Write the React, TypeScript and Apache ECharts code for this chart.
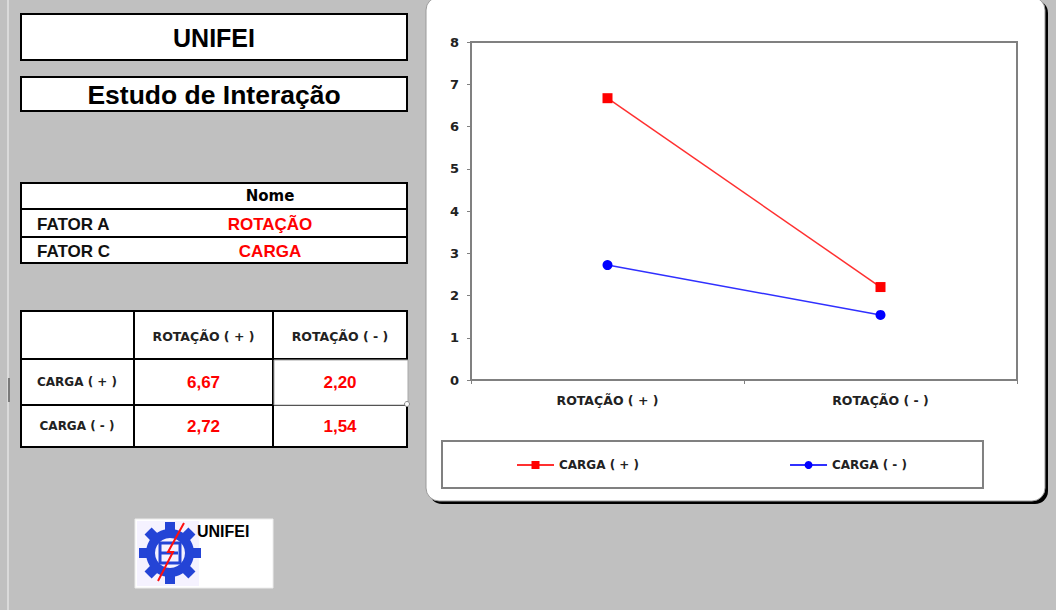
import React, { useEffect, useRef } from "react";
import * as echarts from "echarts";

// ---------- data ----------
const categories = ["ROTAÇÃO ( + )", "ROTAÇÃO ( - )"];
const seriesNames = ["CARGA ( + )", "CARGA ( - )"];
const cargaPlus = [6.67, 2.2];
const cargaMinus = [2.72, 1.54];
const yMin = 0;
const yMax = 8;
const yInterval = 1;
const titleText = "UNIFEI";
const subtitleText = "Estudo de Interação";
const factorHeader = "Nome";
const factorLabels = ["FATOR A", "FATOR C"];
const factorNames = ["ROTAÇÃO", "CARGA"];
const logoText = "UNIFEI";

const LIB = "'Liberation Sans', Arial, sans-serif";
const DV = "'DejaVu Sans', Verdana, sans-serif";

const fmt = (v: number) => v.toFixed(2).replace(".", ",");

function rect(x: number, y: number, w: number, h: number, opts: any = {}) {
  return {
    type: "rect",
    z: opts.z ?? 1,
    shape: { x, y, width: w, height: h, r: opts.r ?? 0 },
    style: {
      fill: opts.fill ?? "#fff",
      stroke: opts.stroke ?? "#000",
      lineWidth: opts.lw ?? 2,
    },
  };
}
function line(x1: number, y1: number, x2: number, y2: number, opts: any = {}) {
  return {
    type: "line",
    z: opts.z ?? 2,
    shape: { x1, y1, x2, y2 },
    style: { stroke: opts.stroke ?? "#000", lineWidth: opts.lw ?? 2 },
  };
}
function text(x: number, y: number, t: string, opts: any = {}) {
  return {
    type: "text",
    z: opts.z ?? 3,
    x,
    y,
    scaleX: opts.scaleX ?? 1,
    style: {
      text: t,
      x: 0,
      y: 0,
      fill: opts.color ?? "#000",
      font: `${opts.weight ?? "bold"} ${opts.size ?? 14}px ${opts.family ?? LIB}`,
      textAlign: opts.align ?? "center",
      textVerticalAlign: "middle",
    },
  };
}

function buildGraphics() {
  const g: any[] = [];
  // left strip
  g.push(line(8, 0, 8, 610, { stroke: "#dadada", lw: 2, z: 0 }));
  g.push(line(9, 378, 9, 402, { stroke: "#7a7a7a", lw: 2, z: 0 }));

  // title boxes
  g.push(rect(21, 14, 386, 46));
  g.push(text(214, 38, titleText, { size: 25 }));
  g.push(rect(21, 77, 386, 34));
  g.push(text(214, 95, subtitleText, { size: 25, scaleX: 1.06 }));

  // factor table
  g.push(rect(21, 183, 386, 80));
  g.push(line(21, 209, 407, 209));
  g.push(line(21, 237, 407, 237));
  g.push(text(270, 196, factorHeader, { size: 15, family: DV }));
  factorLabels.forEach((l, i) => {
    g.push(text(37, 224 + i * 27, l, { size: 17, family: LIB, align: "left", color: "#111" }));
    g.push(text(270, 224 + i * 27, factorNames[i], { size: 17, color: "#ff0000" }));
  });

  // interaction table
  const cols = [21, 134, 273, 407];
  const rows = [311, 359, 405, 447];
  g.push(rect(21, 311, 386, 136));
  g.push(line(134, 311, 134, 447));
  g.push(line(273, 311, 273, 447));
  g.push(line(21, 359, 407, 359));
  g.push(line(21, 405, 407, 405));
  const colC = [(cols[1] + cols[2]) / 2, (cols[2] + cols[3]) / 2];
  const rowC = [(rows[1] + rows[2]) / 2, (rows[2] + rows[3]) / 2];
  categories.forEach((c, i) => {
    g.push(text(colC[i], 336, c, { size: 12.5, family: DV, color: "#222" }));
  });
  seriesNames.forEach((s, i) => {
    g.push(text(77, rowC[i], s, { size: 12, family: DV, color: "#222" }));
  });
  // selected cell overlay
  g.push(rect(274, 360, 134, 45, { stroke: "#a8a8a8", lw: 1, z: 4 }));
  g.push({
    type: "circle",
    z: 5,
    shape: { cx: 407, cy: 404, r: 2.5 },
    style: { fill: "#fff", stroke: "#888", lineWidth: 1 },
  });
  const vals = [cargaPlus, cargaMinus];
  vals.forEach((row, r) => {
    row.forEach((v, c) => {
      g.push(text(colC[c], rowC[r], fmt(v), { size: 17, color: "#ff0000", z: 6 }));
    });
  });

  // logo
  g.push(rect(135, 519, 138, 69, { stroke: "#ececec", lw: 1 }));
  g.push(rect(137, 521, 62, 65, { fill: "#f5f2ff", stroke: "none", lw: 0, z: 2 }));
  const cx = 170, cy = 553;
  for (let k = 0; k < 8; k++) {
    g.push({
      type: "rect",
      z: 3,
      x: cx,
      y: cy,
      rotation: (k * Math.PI) / 4,
      shape: { x: -5, y: -31, width: 10, height: 10 },
      style: { fill: "#2444d6" },
    });
  }
  g.push({
    type: "ring",
    z: 3,
    shape: { cx, cy, r: 24, r0: 15 },
    style: { fill: "#2444d6" },
  });
  g.push(rect(160, 543, 20, 20, { fill: "none", stroke: "#2444d6", lw: 3, z: 4 }));
  g.push(line(160, 553, 178, 553, { stroke: "#2444d6", lw: 3, z: 4 }));
  g.push({
    type: "polyline",
    z: 5,
    shape: { points: [[158, 581], [173, 552], [168, 552], [184, 523]] },
    style: { stroke: "#ff1010", lineWidth: 2, fill: "none" },
  });
  g.push(text(197, 531, logoText, { size: 16, align: "left" }));

  // chart panel (behind the grid)
  g.push({
    type: "rect",
    z: -10,
    shape: { x: 429, y: 0, width: 619, height: 504, r: 13 },
    style: { fill: "#000" },
  });
  g.push({
    type: "rect",
    z: -9,
    shape: { x: 426, y: -3, width: 619, height: 504, r: 13 },
    style: { fill: "#fff", stroke: "#9a9a9a", lineWidth: 1 },
  });
  return g;
}

export default function App() {
  const ref = useRef<HTMLDivElement>(null);
  useEffect(() => {
    if (!ref.current) return;
    const chart = echarts.init(ref.current, undefined, { renderer: "svg" });
    chart.setOption({
      animation: false,
      backgroundColor: "#c0c0c0",
      graphic: { elements: buildGraphics() },
      grid: {
        left: 471,
        right: 39,
        top: 42,
        bottom: 230,
        show: true,
        backgroundColor: "#fff",
        borderColor: "#808080",
        borderWidth: 2,
        z: 1,
      },
      legend: {
        left: 442,
        top: 441,
        padding: [18, 76, 17, 74],
        itemGap: 150,
        itemWidth: 37,
        itemHeight: 10,
        borderColor: "#808080",
        borderWidth: 2,
        data: seriesNames,
        textStyle: { fontFamily: DV, fontWeight: "bold", fontSize: 12, color: "#222" },
      },
      xAxis: {
        type: "category",
        data: categories,
        boundaryGap: true,
        axisLine: { show: true, lineStyle: { color: "#808080", width: 2 } },
        axisTick: { show: true, length: 4, lineStyle: { color: "#808080" } },
        axisLabel: { margin: 14, fontFamily: DV, fontWeight: "bold", fontSize: 12.5, color: "#222" },
        splitLine: { show: false },
      },
      yAxis: {
        type: "value",
        min: yMin,
        max: yMax,
        interval: yInterval,
        axisLine: { show: true, lineStyle: { color: "#808080", width: 2 } },
        axisTick: { show: true, length: 4, lineStyle: { color: "#808080" } },
        axisLabel: { margin: 12, fontFamily: DV, fontWeight: "bold", fontSize: 13, color: "#222" },
        splitLine: { show: false },
      },
      series: [
        {
          name: seriesNames[0],
          type: "line",
          data: cargaPlus,
          symbol: "rect",
          symbolSize: 10,
          color: "#ff0000",
          lineStyle: { color: "#ff3030", width: 1.5 },
          itemStyle: { color: "#ff0000" },
        },
        {
          name: seriesNames[1],
          type: "line",
          data: cargaMinus,
          symbol: "circle",
          symbolSize: 10,
          color: "#0000ff",
          lineStyle: { color: "#3030ff", width: 1.5 },
          itemStyle: { color: "#0000ff" },
        },
      ],
    });
    return () => chart.dispose();
  }, []);
  return (
    <div
      ref={ref}
      style={{ position: "fixed", left: 0, top: 0, width: 1056, height: 610 }}
    />
  );
}
